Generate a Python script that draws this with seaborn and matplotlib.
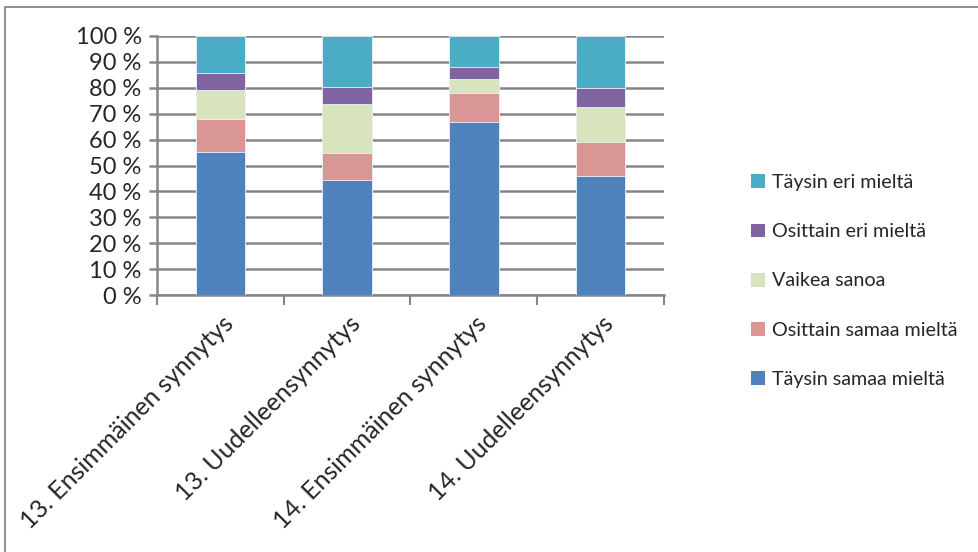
import matplotlib
matplotlib.use("Agg")
import matplotlib.pyplot as plt
import matplotlib.transforms as mtransforms
import seaborn as sns
import pandas as pd
import numpy as np
from matplotlib.patches import Patch
from matplotlib.lines import Line2D

categories = ["13. Ensimmäinen synnytys", "13. Uudelleensynnytys",
              "14. Ensimmäinen synnytys", "14. Uudelleensynnytys"]
series_names = ["Täysin samaa mieltä", "Osittain samaa mieltä", "Vaikea sanoa",
                "Osittain eri mieltä", "Täysin eri mieltä"]
taysin_samaa = [55.3, 44.4, 66.9, 45.8]
osittain_samaa = [12.7, 10.4, 11.1, 13.2]
vaikea_sanoa = [11.3, 19.1, 5.5, 13.6]
osittain_eri = [6.5, 6.4, 4.6, 7.2]
taysin_eri = [14.2, 19.7, 11.9, 20.2]
colors = ["#4F81BD", "#D99694", "#D7E4BD", "#8064A2", "#4BACC6"]
yticks = list(range(0, 101, 10))
ytick_labels = [f"{v} %" for v in yticks]

sns.set_theme(style="white")
plt.rcParams["font.family"] = ["Lato", "DejaVu Sans"]

fig = plt.figure(figsize=(9.79, 5.52), dpi=100)
ax = fig.add_axes([157 / 979, 1 - 295 / 552, (664 - 157) / 979, (295 - 36) / 552])

layers = [taysin_samaa, osittain_samaa, vaikea_sanoa, osittain_eri, taysin_eri]
cum = np.cumsum(np.array(layers), axis=0)

# stacked bars: draw cumulative totals from the top layer downwards
for i in range(len(layers) - 1, -1, -1):
    df = pd.DataFrame({"cat": categories, "val": cum[i]})
    sns.barplot(data=df, x="cat", y="val", color=colors[i], width=0.39,
                saturation=1, ax=ax, zorder=3, edgecolor="#EEF2F8", linewidth=0.6)

ax.set_ylim(0, 100)
ax.set_xlim(-0.5, 3.5)
ax.set_yticks(yticks)
ax.set_yticklabels(ytick_labels, fontsize=17)
ax.yaxis.grid(True, color="#868686", linewidth=1.8, zorder=0)
ax.set_axisbelow(True)
ax.set_xlabel("")
ax.set_ylabel("")

for s in ["top", "right"]:
    ax.spines[s].set_visible(False)
ax.spines["left"].set_color("#868686")
ax.spines["left"].set_linewidth(1.8)
ax.spines["bottom"].set_color("#868686")
ax.spines["bottom"].set_linewidth(1.8)

ax.tick_params(axis="y", which="both", left=True, length=6, width=1.8,
               color="#868686", pad=5)
# category ticks at boundaries
ax.set_xticks(np.arange(-0.5, 4.0, 1.0), minor=False)
ax.set_xticklabels([""] * 5)
ax.tick_params(axis="x", which="major", bottom=True, length=7, width=1.5,
               color="#868686")
ax.set_xticks(range(len(categories)), minor=True)
ax.set_xticklabels(categories, minor=True, rotation=45, ha="right",
                   rotation_mode="anchor", fontsize=18)
ax.tick_params(axis="x", which="minor", bottom=False, length=0, pad=12)
shift = mtransforms.ScaledTranslation(1 / 100, 0, fig.dpi_scale_trans)
for lab in ax.get_xticklabels(minor=True):
    lab.set_transform(lab.get_transform() + shift)

handles = [Patch(facecolor=colors[i], edgecolor="none") for i in range(4, -1, -1)]
labels = [series_names[i] for i in range(4, -1, -1)]
fig.legend(handles, labels, loc="center left", bbox_to_anchor=(733 / 979, 1 - 281 / 552),
           frameon=False, fontsize=14.2, handlelength=0.7, handleheight=0.7,
           handletextpad=0.4, labelspacing=1.63)

# outer chart frame (top and left edges)
fig.add_artist(Line2D([5 / 979, 5 / 979, 1.0], [0.0, 1 - 6.5 / 552, 1 - 6.5 / 552],
                      transform=fig.transFigure, color="#868686", linewidth=1.3))

fig.savefig("out.png", dpi=100)
